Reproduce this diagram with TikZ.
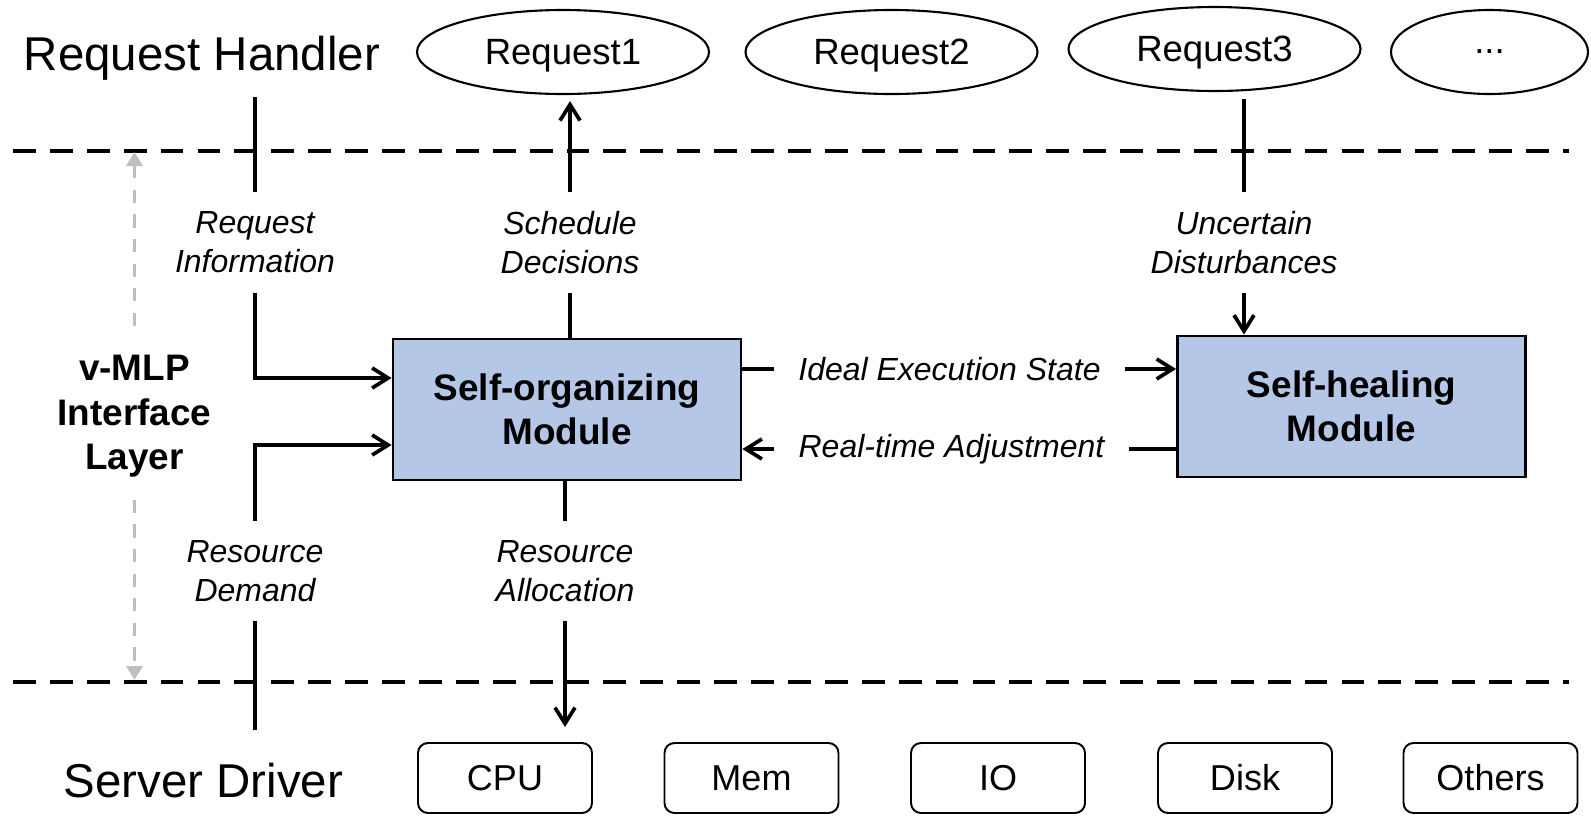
\documentclass[tikz,border=0pt]{standalone}
\usepackage{fontspec}
\setmainfont{Liberation Sans}
\usetikzlibrary{shapes.geometric,arrows.meta}
\definecolor{modblue}{HTML}{B4C7E7}
\definecolor{layergray}{HTML}{BFBFBF}

\begin{document}
\begin{tikzpicture}[
  >={Straight Barb[length=0.32cm,width=0.40cm]},
  req/.style={ellipse, draw=black, line width=1.2pt, minimum width=5.84cm, minimum height=1.68cm, inner sep=0pt, text depth=0pt, font=\fontsize{20.8}{25}\selectfont},
  res/.style={draw=black, rounded corners=0.2cm, line width=1.1pt, minimum width=3.48cm, minimum height=1.4cm, inner sep=0pt, font=\fontsize{20.5}{25}\selectfont},
  module/.style={draw=black, fill=modblue, line width=1.6pt, minimum width=6.96cm, minimum height=2.82cm, align=center, font=\bfseries\fontsize{21}{25.3}\selectfont},
  flowlabel/.style={align=center, inner xsep=0.48cm, inner ysep=0.38cm, font=\itshape\fontsize{18.2}{22.2}\selectfont},
  tier/.style={anchor=base, inner sep=0pt, font=\fontsize{27}{32}\selectfont},
  flow/.style={line width=2.1pt},
  tierline/.style={line width=2.6pt, dash pattern=on 13pt off 8pt},
  layerspan/.style={draw=layergray, line width=1.8pt, dash pattern=on 7.5pt off 6.5pt, >={Triangle[length=0.28cm,width=0.32cm]}}
]
\useasboundingbox (0,0) rectangle (31.82,-16.30);

\draw[tierline] (0.26,-3.02) -- (31.38,-3.02);
\draw[tierline] (0.26,-13.64) -- (31.38,-13.64);

\node[tier] (handler) at (4.04,-1.40) {Request Handler};
\node[req] (req1) at (11.26,-1.04) {Request1};
\node[req] (req2) at (17.83,-1.04) {Request2};
\node[req] (req3) at (24.29,-0.98) {Request3};
\node[req, minimum width=3.94cm] (reqmore) at (29.79,-1.04) {...};

\node[module] (selforg) at (11.34,-8.19) {Self-organizing\\Module};
\node[module] (selfheal) at (27.03,-8.13) {Self-healing\\Module};

\node[align=center, inner sep=0pt, inner ysep=0.44cm, font=\bfseries\fontsize{21}{25.3}\selectfont] (layer) at (2.69,-8.33) {v-MLP\\Interface\\Layer};

\node[flowlabel] (reqinfo) at (5.10,-4.85) {Request\\Information};
\node[flowlabel] (sched) at (11.40,-4.85) {Schedule\\Decisions};
\node[flowlabel] (unc) at (24.88,-4.85) {Uncertain\\Disturbances};
\node[flowlabel] (resdem) at (5.10,-11.42) {Resource\\Demand};
\node[flowlabel] (resalloc) at (11.30,-11.42) {Resource\\Allocation};
\node[flowlabel] (ideal) at (18.99,-7.38) {Ideal Execution State};
\node[flowlabel] (adjust) at (19.03,-8.98) {Real-time Adjustment};

\node[tier] (driver) at (4.07,-15.94) {Server Driver};
\node[res] (cpu) at (10.10,-15.56) {CPU};
\node[res] (mem) at (15.03,-15.56) {Mem};
\node[res] (io) at (19.96,-15.56) {IO};
\node[res] (disk) at (24.90,-15.56) {Disk};
\node[res] (others) at (29.81,-15.56) {Others};

\coordinate (infotop) at (5.10,-1.94);
\coordinate (demandbot) at (5.10,-14.60);
\coordinate (spantop) at (2.69,-3.04);
\coordinate (spanbot) at (2.69,-13.60);

\draw[flow] (infotop) -- (reqinfo);
\draw[flow, ->] (reqinfo) |- ([yshift=0.63cm]selforg.west);
\draw[flow] (demandbot) -- (resdem);
\draw[flow, ->] (resdem) |- ([yshift=-0.71cm]selforg.west);

\draw[flow] (selforg.north -| sched) -- (sched);
\draw[flow, ->, shorten >=0.12cm] (sched) -- (sched |- req1.south);
\draw[flow] (selforg.south -| resalloc) -- (resalloc);
\draw[flow, ->, shorten >=0.3cm] (resalloc) -- (resalloc |- cpu.north);

\draw[flow, shorten <=0.14cm] (req3.south -| unc) -- (unc);
\draw[flow, ->] (unc) -- (unc |- selfheal.north);

\draw[flow] (selforg.east |- ideal) -- (ideal);
\draw[flow, ->] (ideal) -- (selfheal.west |- ideal);
\draw[flow] (selfheal.west |- adjust) -- (adjust);
\draw[flow, ->] (adjust) -- (selforg.east |- adjust);

\draw[layerspan, <-] (spantop) -- (layer);
\draw[layerspan, ->] (layer) -- (spanbot);
\end{tikzpicture}
\end{document}
